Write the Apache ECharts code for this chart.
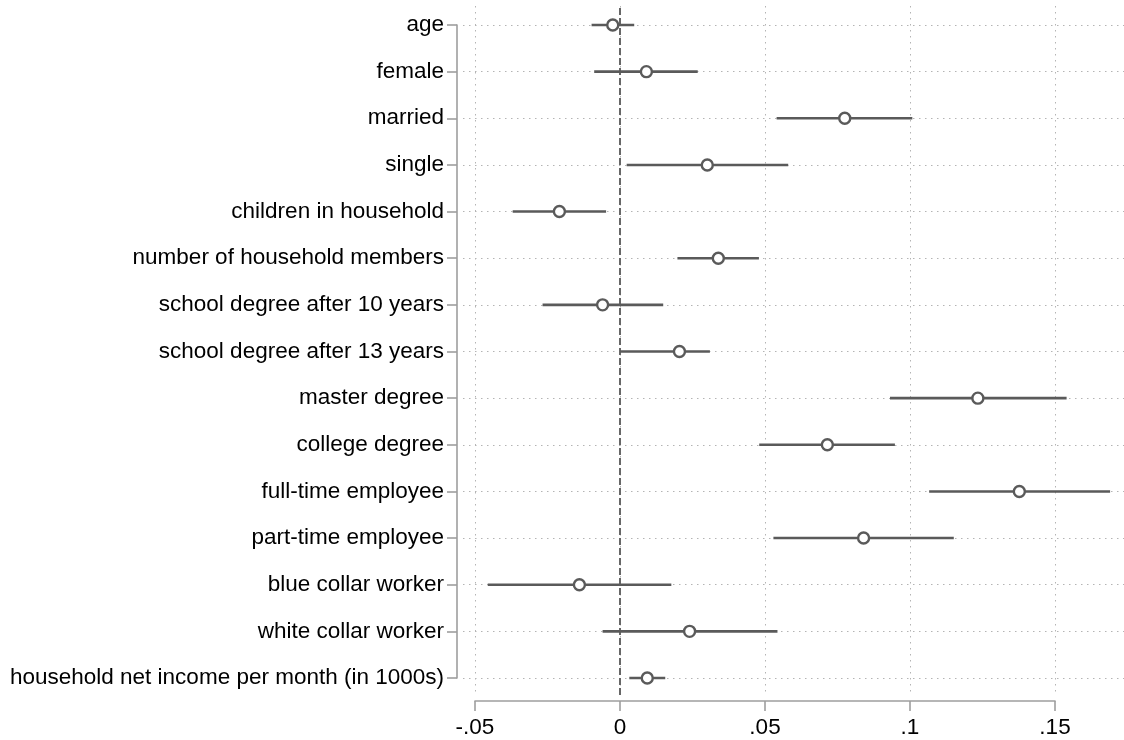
<!DOCTYPE html>
<html>
<head>
<meta charset="utf-8">
<script src="https://cdn.jsdelivr.net/npm/echarts@6/dist/echarts.min.js"></script>
<style>
  html, body { margin: 0; padding: 0; background: #ffffff; }
  #chart { width: 1124px; height: 740px; }
</style>
</head>
<body>
<div id="chart"></div>
<script>
// Coefficient estimates with confidence intervals, one row per regressor
const categories = [
  'age',
  'female',
  'married',
  'single',
  'children in household',
  'number of household members',
  'school degree after 10 years',
  'school degree after 13 years',
  'master degree',
  'college degree',
  'full-time employee',
  'part-time employee',
  'blue collar worker',
  'white collar worker',
  'household net income per month (in 1000s)'
];
const estimates = [-0.0025, 0.0091, 0.0775, 0.0301, -0.0209, 0.0339, -0.0060, 0.0205, 0.1234, 0.0715, 0.1377, 0.0840, -0.0140, 0.0240, 0.0094];
const lowerCI   = [-0.0098, -0.0089, 0.0540, 0.0023, -0.0370, 0.0198, -0.0267, 0.0000, 0.0931, 0.0480, 0.1066, 0.0529, -0.0456, -0.0060, 0.0032];
const upperCI   = [0.0049, 0.0268, 0.1008, 0.0580, -0.0048, 0.0479, 0.0149, 0.0310, 0.1540, 0.0948, 0.1690, 0.1151, 0.0177, 0.0543, 0.0156];

const xTickValues = [-0.05, 0, 0.05, 0.1, 0.15];
const xTickLabels = ['-.05', '0', '.05', '.1', '.15'];

// Full horizontal extent of the plot region (a bit wider than the labelled ticks)
const plotXMin = -0.054138;
const plotXMax = 0.173793;

const FONT = '"Liberation Sans", Arial, sans-serif';
const INK = '#5a5a5a';
const AXIS = '#9e9e9e';
const GRIDC = '#b4b4b4';

const chart = echarts.init(document.getElementById('chart'), null, { renderer: 'canvas' });

chart.setOption({
  animation: false,
  backgroundColor: '#ffffff',
  grid: [
    // rows of estimates
    { left: 463, right: 0, top: 25, bottom: 62 },
    // labelled x axis and vertical grid
    { left: 475, right: 69, top: 6, bottom: 45 }
  ],
  xAxis: [
    {
      gridIndex: 0, type: 'value', min: plotXMin, max: plotXMax, show: false
    },
    {
      gridIndex: 1, type: 'value', min: -0.05, max: 0.15, interval: 0.05,
      offset: 6,
      axisLine: { show: true, onZero: false, lineStyle: { color: AXIS, width: 1.6 } },
      axisTick: { show: true, length: 10, lineStyle: { color: AXIS, width: 1.6 } },
      axisLabel: {
        margin: 15, fontSize: 22.5, color: '#000', fontFamily: FONT,
        formatter: v => {
          const k = xTickValues.findIndex(t => Math.abs(t - v) < 1e-9);
          return k >= 0 ? xTickLabels[k] : '';
        }
      },
      splitLine: { show: true, lineStyle: { color: GRIDC, width: 1, type: [1.5, 4.5] } }
    }
  ],
  yAxis: [
    {
      gridIndex: 0, type: 'value', inverse: true, min: 0, max: categories.length - 1, interval: 1,
      offset: 6,
      axisLine: { show: true, onZero: false, lineStyle: { color: AXIS, width: 1.6 } },
      axisTick: { show: true, length: 10, lineStyle: { color: AXIS, width: 1.6 } },
      axisLabel: {
        margin: 13, fontSize: 22.5, color: '#000', fontFamily: FONT,
        formatter: v => categories[Math.round(v)] || ''
      },
      splitLine: { show: true, lineStyle: { color: GRIDC, width: 1, type: [1.5, 4.5] } }
    },
    {
      gridIndex: 1, type: 'value', min: 0, max: 1, show: false
    }
  ],
  series: [
    {
      // reference line at zero
      type: 'line',
      xAxisIndex: 1, yAxisIndex: 1,
      data: [[0, 0], [0, 1]],
      symbol: 'none', silent: true, z: 3,
      lineStyle: { color: '#666666', width: 2, type: [7, 3] }
    },
    {
      // confidence intervals
      type: 'custom',
      xAxisIndex: 0, yAxisIndex: 0,
      clip: false, silent: true, z: 4,
      data: categories.map((c, i) => [i, lowerCI[i], upperCI[i]]),
      encode: { x: [1, 2], y: 0 },
      renderItem: (params, api) => {
        const i = api.value(0);
        const a = api.coord([api.value(1), i]);
        const b = api.coord([api.value(2), i]);
        return {
          type: 'line',
          shape: { x1: a[0], y1: a[1], x2: b[0], y2: b[1] },
          style: { stroke: INK, lineWidth: 2.6 }
        };
      }
    },
    {
      // point estimates
      type: 'scatter',
      xAxisIndex: 0, yAxisIndex: 0,
      z: 5, silent: true,
      symbol: 'circle', symbolSize: 11,
      itemStyle: { color: '#ffffff', borderColor: INK, borderWidth: 2.4, opacity: 1 },
      data: estimates.map((v, i) => [v, i])
    }
  ]
});
</script>
</body>
</html>
